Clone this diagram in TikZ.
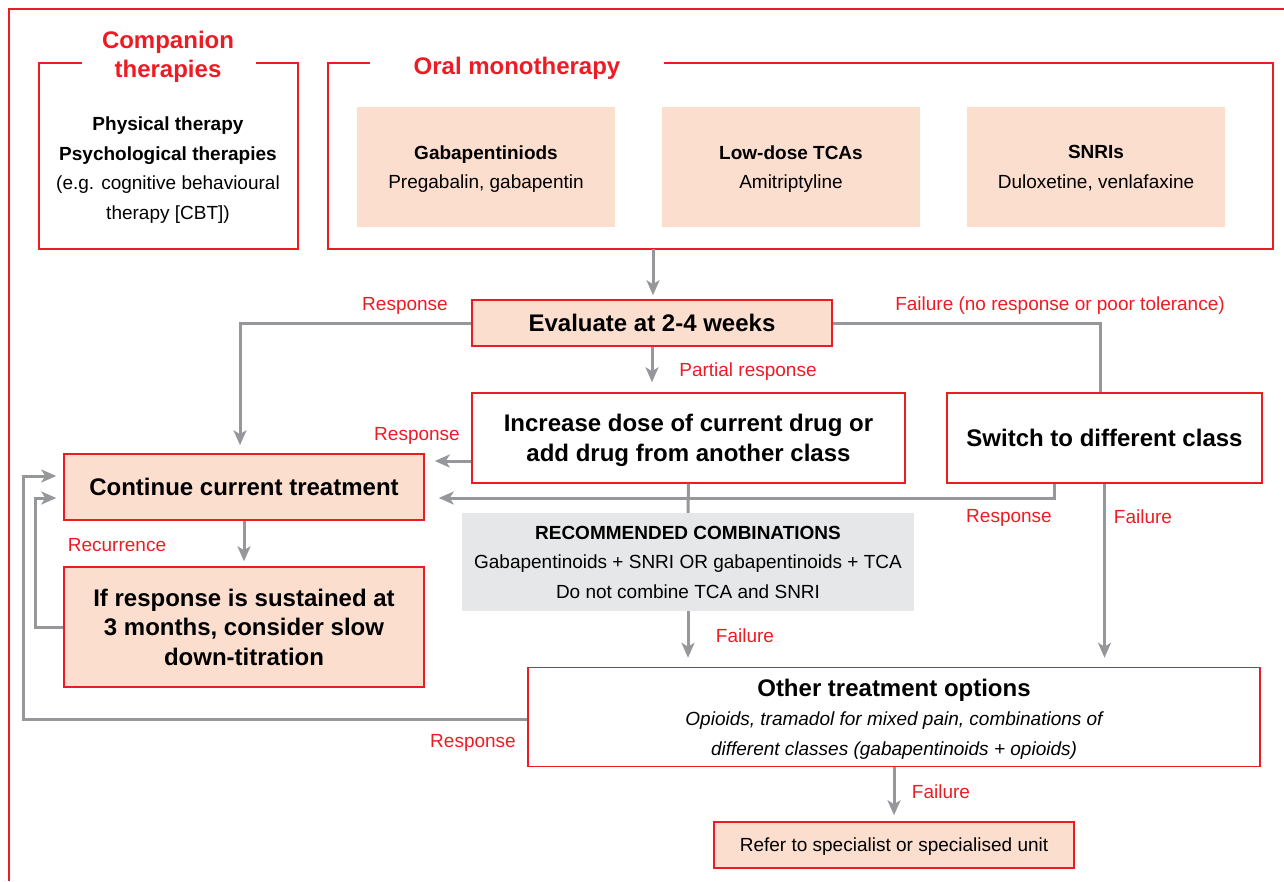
\documentclass[tikz,border=0pt]{standalone}
\usepackage{fontspec}
\setmainfont{Liberation Sans}
\usetikzlibrary{arrows.meta,calc}
\definecolor{myred}{RGB}{237,28,36}
\definecolor{peachc}{RGB}{252,222,207}
\definecolor{combog}{RGB}{230,231,232}
\definecolor{arrg}{RGB}{150,151,155}
\newcommand\fbig{\fontsize{24}{29.5}\selectfont\bfseries}
\newcommand\fsm{\fontsize{19}{29.5}\selectfont\mdseries}
\tikzset{
  box/.style={draw=myred, line width=1.5pt, inner sep=0pt, align=center, font=\fbig, text depth=0pt},
  drugbox/.style={fill=peachc, inner sep=0pt, align=center, font=\fsm, minimum width=258, minimum height=120, text depth=0pt},
  conn/.style={draw=arrg, line width=3pt},
  arr/.style={conn, -{Stealth[length=15pt,width=13pt,inset=4pt]}},
  lbl/.style={text=myred, font=\fsm, inner sep=0pt},
  frame/.style={draw=myred, line width=1.5pt},
}
\begin{document}
\begin{tikzpicture}[x=1pt,y=-1pt]
\useasboundingbox (0,0) rectangle (1284,881);
% outer border
\draw[myred, line width=2pt] (9,881) -- (9,9) -- (1284,9);
% companion therapies frame
\draw[frame] (82,63) -- (39,63) -- (39,249) -- (298,249) -- (298,63) -- (256,63);
\node[text=myred, font=\fbig, align=center, inner sep=0pt] (compT) at (168,57) {Companion\\therapies};
\node[font=\fsm, align=center, inner sep=0pt] (compB) at (168,170)
  {\textbf{Physical therapy}\\\textbf{Psychological therapies}\\(e.g. cognitive behavioural\\therapy [CBT])};
% oral monotherapy frame
\draw[frame] (370,63) -- (328,63) -- (328,249) -- (1273,249) -- (1273,63) -- (664,63);
\node[text=myred, font=\fbig, inner sep=0pt] (oralT) at (517,68) {Oral monotherapy};
\coordinate (oralB) at (653,249);
\node[drugbox] (gab) at (486,167) {\textbf{Gabapentiniods}\\Pregabalin, gabapentin};
\node[drugbox] (tca) at (791,167) {\textbf{Low-dose TCAs}\\Amitriptyline};
\node[drugbox] (snri) at (1096,167) {\textbf{SNRIs}\\Duloxetine, venlafaxine};
% main boxes
\node[box, fill=peachc, minimum width=360, minimum height=46] (eval) at (652,323) {Evaluate at 2-4 weeks};
\node[box, fill=white, minimum width=433, minimum height=90] (inc) at (688.5,438) {Increase dose of current drug or\\add drug from another class};
\node[box, fill=white, minimum width=315, minimum height=90] (sw) at (1104.5,438) {Switch to different class};
\node[box, fill=peachc, minimum width=360, minimum height=66] (cont) at (244,487) {Continue current treatment};
\node[box, fill=peachc, minimum width=360, minimum height=120] (ifr) at (244,627) {If response is sustained at\\3 months, consider slow\\down-titration};
\node[fill=combog, inner sep=0pt, align=center, font=\fsm, minimum width=452, minimum height=98] (combo) at (688,562)
  {\textbf{RECOMMENDED COMBINATIONS}\\Gabapentinoids + SNRI OR gabapentinoids + TCA\\Do not combine TCA and SNRI};
\node[box, fill=white, minimum width=732, minimum height=99] (other) at (894,717)
  {{\fbig Other treatment options}\\{\fsm\itshape Opioids, tramadol for mixed pain, combinations of}\\{\fsm\itshape different classes (gabapentinoids + opioids)}};
\node[box, fill=peachc, font=\fsm, minimum width=360, minimum height=46] (refer) at (894,845) {Refer to specialist or specialised unit};
% connectors
\draw[arr, shorten >=4pt] (oralB) -- (oralB |- eval.north);
\draw[arr, shorten >=8pt] (eval.west) -| ([xshift=-4pt]cont.north);
\draw[conn] (eval.east) -| ([xshift=-4pt]sw.north);
\draw[arr, shorten >=10pt] (eval.south) -- (eval.south |- inc.north);
\coordinate (p1) at ($(inc.west)+(0,23)$);
\draw[arr, shorten >=10pt] (p1) -- (p1 -| cont.east);
\coordinate (p2) at ($(sw.south)+(-50,0)$);
\coordinate (p3) at ($(cont.east)+(0,11)$);
\draw[arr, shorten >=14pt] (p2) |- (p3);
\draw[conn] (inc.south) -- (combo.north);
\draw[arr, shorten >=9pt] (combo.south) -- (combo.south |- other.north);
\draw[arr, shorten >=9pt] (sw.south) -- (sw.south |- other.north);
\draw[arr, shorten >=5pt] (cont.south) -- (ifr.north);
\coordinate (p5) at ($(cont.west)+(0,11)$);
\draw[arr, shorten >=7pt] (ifr.west) -- ++(-28,0) |- (p5);
\coordinate (p6) at ($(cont.west)+(0,-11)$);
\draw[arr, shorten >=7pt] ($(other.west)+(0,2)$) -- ++(-504,0) |- (p6);
\draw[arr, shorten >=6pt] (other.south) -- (refer.north);
% labels
\node[lbl] (l1) at (405,306) {Response};
\node[lbl] (l2) at (1060,306) {Failure (no response or poor tolerance)};
\node[lbl] (l3) at (748,372) {Partial response};
\node[lbl] (l4) at (417,436) {Response};
\node[lbl] (l5) at (1009,518) {Response};
\node[lbl] (l6) at (1143,517) {Failure};
\node[lbl] (l7) at (117,545) {Recurrence};
\node[lbl] (l8) at (745,636) {Failure};
\node[lbl] (l9) at (473,743) {Response};
\node[lbl] (l10) at (941,792) {Failure};
\end{tikzpicture}
\end{document}
